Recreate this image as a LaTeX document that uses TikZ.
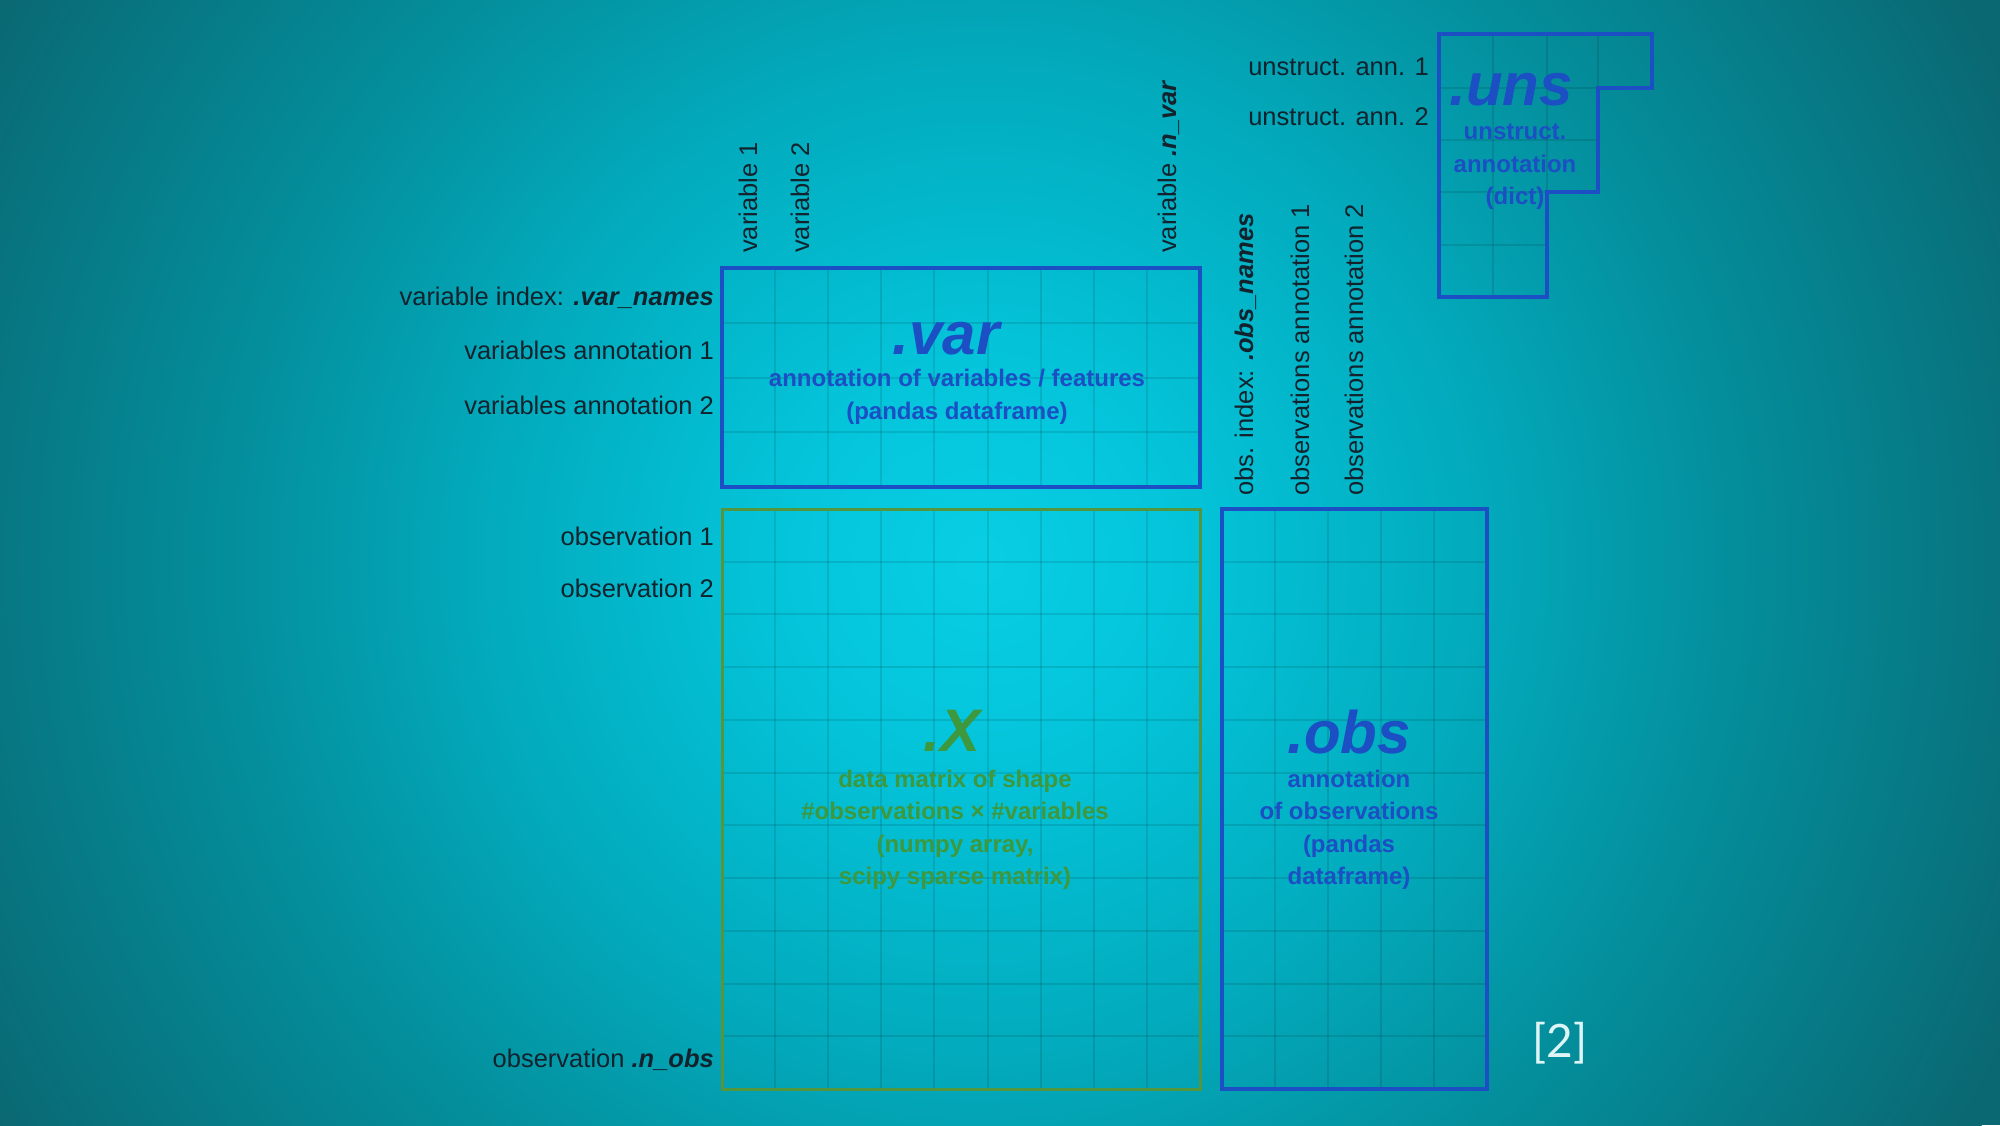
\documentclass[tikz,border=0pt]{standalone}
\usepackage{fontspec}
\setmainfont{Liberation Sans}
\newfontfamily\bracketfont{Lato}
\definecolor{bgA}{RGB}{8,206,228}
\definecolor{bgB}{RGB}{4,196,218}
\definecolor{bgC}{RGB}{2,170,188}
\definecolor{bgD}{RGB}{4,142,156}
\definecolor{bgE}{RGB}{7,118,129}
\definecolor{bgF}{RGB}{10,104,114}
\definecolor{annblue}{RGB}{28,78,196}
\definecolor{xgreen}{RGB}{62,152,62}
\definecolor{xframe}{RGB}{84,150,62}
\definecolor{lblc}{RGB}{18,35,45}
\definecolor{refc}{RGB}{222,245,245}
\pgfdeclareradialshading{annbg}{\pgfpoint{0bp}{0bp}}{color(0bp)=(bgA); color(4.4bp)=(bgB); color(10.9bp)=(bgC); color(16.3bp)=(bgD); color(21.7bp)=(bgE); color(24.6bp)=(bgF); color(50bp)=(bgF)}
\begin{document}
\begin{tikzpicture}[x=1pt,y=-1pt,font=\fontsize{25.5}{30}\selectfont,
  cellline/.style={draw=black,draw opacity=0.1,line width=2pt},
  annbox/.style={draw=annblue,line width=4.5pt},
  xbox/.style={draw=xframe,line width=3pt},
  lbl/.style={text=lblc,inner sep=0pt},
  bigname/.style={inner sep=0pt,font=\fontsize{60}{60}\selectfont\bfseries\itshape},
  subtxt/.style={inner sep=0pt,align=center,font=\fontsize{24}{32.5}\selectfont\bfseries}]
\useasboundingbox (0,0) rectangle (2000,1125);
\fill [bgF] (0,0) rectangle (2000,1125);
\begin{scope}
\clip (0,0) rectangle (2000,1125);
\shade [shading=annbg] (980,560) circle [radius=1150];
\end{scope}
\foreach \i in {1,...,8} {
  \draw [cellline] ({722+\i*53.11},268) -- ({722+\i*53.11},487);
  \draw [cellline] ({722+\i*53.11},509) -- ({722+\i*53.11},1089);
}
\foreach \j in {1,2,3} \draw [cellline] (722,{268+\j*54.75}) -- (1200,{268+\j*54.75});
\foreach \j in {1,...,10} {
  \draw [cellline] (722,{509+\j*52.73}) -- (1200,{509+\j*52.73});
  \draw [cellline] (1222,{509+\j*52.73}) -- (1487,{509+\j*52.73});
}
\foreach \i in {1,...,4} \draw [cellline] ({1222+\i*53},509) -- ({1222+\i*53},1089);
\foreach \x/\y in {1493/297,1547/192,1598/88} \draw [cellline] (\x,34) -- (\x,\y);
\foreach \y/\x in {88/1598,140/1598,192/1547,245/1547} \draw [cellline] (1439,\y) -- (\x,\y);
\draw [annbox] (722,268) rectangle (1200,487);
\draw [xbox] (722,509) rectangle (1200,1089);
\draw [annbox] (1222,509) rectangle (1487,1089);
\draw [annbox] (1439,34) -- (1652,34) -- (1652,88) -- (1598,88) -- (1598,192) -- (1547,192) -- (1547,297) -- (1439,297) -- cycle;
\node [lbl,anchor=base east] (varidx) at (714,305) {variable index: \textbf{\textit{.var\_names}}};
\foreach \y/\t/\n in {359/variables annotation 1/vann1,414/variables annotation 2/vann2,545/observation 1/obsone,597/observation 2/obstwo}
  \node [lbl,anchor=base east] (\n) at (714,\y) {\t};
\node [lbl,anchor=base east] (obsn) at (714,1067) {observation \textbf{\textit{.n\_obs}}};
\node [lbl,rotate=90,anchor=base west] (varone) at (757,253) {variable 1};
\node [lbl,rotate=90,anchor=base west] (vartwo) at (809,253) {variable 2};
\node [lbl,rotate=90,anchor=base west] (varn) at (1176,253) {variable \textbf{\textit{.n\_var}}};
\node [lbl,rotate=90,anchor=base west] (obsidx) at (1253,496) {obs. index: \textbf{\textit{.obs\_names}}};
\node [lbl,rotate=90,anchor=base west] (oann1) at (1309,496) {observations annotation 1};
\node [lbl,rotate=90,anchor=base west] (oann2) at (1363,496) {observations annotation 2};
\node [lbl,anchor=base east] (uann1) at (1429,75) {unstruct. ann. 1};
\node [lbl,anchor=base east] (uann2) at (1429,125) {unstruct. ann. 2};
\node [bigname,text=annblue] (vartitle) at (946,339) {.var};
\node [subtxt,text=annblue] (vartext) at (957,397) {annotation of variables / features\\(pandas dataframe)};
\node [bigname,text=xgreen] (xtitle) at (952,731) {.X};
\node [subtxt,text=xgreen] (xtext) at (955,830) {data matrix of shape\\\#observations × \#variables\\(numpy array,\\scipy sparse matrix)};
\node [bigname,text=annblue] (obstitle) at (1349,732) {.obs};
\node [subtxt,text=annblue] (obstext) at (1349,830) {annotation\\of observations\\(pandas\\dataframe)};
\node [bigname,text=annblue] (unstitle) at (1511,90) {.uns};
\node [subtxt,text=annblue] (unstext) at (1515,167) {unstruct.\\annotation\\(dict)};
\node [text=refc,inner sep=0pt,font=\bracketfont\fontsize{46}{46}\selectfont] (ref) at (1560,1043) {[2]};
\end{tikzpicture}
\end{document}
